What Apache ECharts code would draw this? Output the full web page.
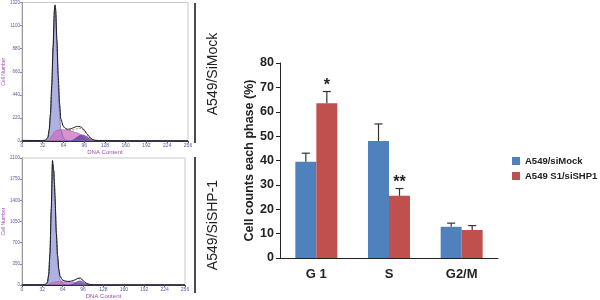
<!DOCTYPE html>
<html>
<head>
<meta charset="utf-8">
<script src="https://cdn.jsdelivr.net/npm/echarts@6/dist/echarts.min.js"></script>
<style>
  html, body { margin: 0; padding: 0; background: #fff; }
  #chart { width: 600px; height: 300px; }
</style>
</head>
<body>
<div id="chart"></div>
<script>
// histogram channels (DNA content)
var channels = [0, 16, 32, 36, 40, 42, 44, 46, 48, 50, 51, 52, 54, 56, 58, 60, 64, 68, 72, 76, 80, 84, 88, 92, 96, 100, 104, 108, 112, 116, 120, 128, 136, 160, 192, 224, 256];

// A549/SiMock histogram
var mockG1 = [0, 0, 0, 0, 20, 90, 220, 480, 820, 1180, 1280, 1210, 880, 520, 260, 110, 30, 6, 0, 0, 0, 0, 0, 0, 0, 0, 0, 0, 0, 0, 0, 0, 0, 0, 0, 0, 0];
var mockS = [0, 0, 0, 0, 0, 15, 30, 50, 70, 85, 90, 95, 100, 105, 107, 108, 108, 105, 100, 95, 88, 80, 70, 55, 40, 22, 8, 0, 0, 0, 0, 0, 0, 0, 0, 0, 0];
var mockG2 = [0, 0, 0, 0, 0, 0, 0, 0, 0, 0, 0, 0, 0, 0, 0, 0, 0, 0, 0, 0, 12, 30, 48, 58, 55, 42, 25, 12, 4, 0, 0, 0, 0, 0, 0, 0, 0];
var mockData = [6, 5, 4, 8, 35, 110, 260, 540, 900, 1250, 1295, 1250, 960, 620, 360, 210, 140, 115, 112, 118, 128, 138, 140, 130, 105, 70, 40, 18, 8, 5, 4, 3, 3, 2, 2, 2, 2];
var mockFit = [0, 0, 0, 2, 25, 100, 250, 520, 880, 1230, 1300, 1260, 940, 600, 350, 200, 135, 112, 105, 105, 108, 115, 122, 118, 98, 68, 36, 14, 4, 1, 0, 0, 0, 0, 0, 0, 0];

// A549/SiSHP-1 histogram
var shpG1 = [0, 0, 0, 0, 30, 150, 500, 1200, 2000, 1850, 1650, 1400, 820, 430, 200, 90, 25, 5, 0, 0, 0, 0, 0, 0, 0, 0, 0, 0, 0, 0, 0, 0, 0, 0, 0, 0, 0];
var shpS = [0, 0, 0, 0, 0, 10, 20, 30, 40, 45, 48, 50, 52, 55, 55, 55, 55, 52, 50, 48, 45, 40, 32, 22, 12, 4, 0, 0, 0, 0, 0, 0, 0, 0, 0, 0, 0];
var shpG2 = [0, 0, 0, 0, 0, 0, 0, 0, 0, 0, 0, 0, 0, 0, 0, 0, 0, 0, 0, 0, 12, 35, 60, 68, 45, 22, 8, 2, 0, 0, 0, 0, 0, 0, 0, 0, 0];
var shpData = [5, 4, 4, 10, 40, 170, 520, 1250, 2060, 1900, 1700, 1450, 870, 490, 260, 140, 80, 65, 60, 62, 72, 90, 112, 115, 75, 38, 16, 7, 4, 3, 3, 2, 2, 2, 2, 2, 2];
var shpFit = [0, 0, 0, 3, 35, 165, 515, 1230, 2040, 1890, 1700, 1460, 880, 490, 260, 150, 82, 62, 58, 58, 66, 84, 102, 105, 70, 36, 14, 4, 1, 0, 0, 0, 0, 0, 0, 0, 0];

// bar chart
var phases = ['G 1', 'S', 'G2/M'];
var mockPct = [39.5, 48, 12.8];
var mockErr = [3.5, 7, 1.5];
var shpPct = [63.5, 25.5, 11.5];
var shpErr = [4.8, 3, 1.8];
var shpSig = ['*', '**', ''];
var groupNames = ['A549/siMock', 'A549 S1/siSHP1'];

var FONT = 'Liberation Sans, Arial, sans-serif';
var barW = 21;

function pairs(vals) {
    return channels.map(function (c, i) { return [c, vals[i]]; });
}

function histX(idx) {
    return {
        gridIndex: idx, type: 'value', min: 0, max: 256, interval: 32,
        name: 'DNA Content', nameLocation: 'middle', nameGap: 8,
        nameTextStyle: { fontSize: 6, color: '#a04fb0', fontFamily: FONT },
        axisLine: { lineStyle: { color: '#222', width: 1 } },
        axisTick: { length: 2, lineStyle: { color: '#555' } },
        axisLabel: { fontSize: 5, color: '#5a5aa0', margin: 2, fontFamily: FONT },
        splitLine: { show: false }
    };
}
function histY(idx, max, step) {
    return {
        gridIndex: idx, type: 'value', min: 0, max: max, interval: step,
        name: 'Cell Number', nameLocation: 'middle', nameGap: 10,
        nameTextStyle: { fontSize: 5, color: '#a04fb0', fontFamily: FONT },
        axisLine: { show: true, lineStyle: { color: '#888', width: 0.8 } },
        axisTick: { length: 2, lineStyle: { color: '#888' } },
        axisLabel: { fontSize: 4.5, color: '#5a5aa0', margin: 2, fontFamily: FONT, formatter: function (v) { return String(v); } },
        splitLine: { show: false }
    };
}
function histSeries(idx, g1, s, g2, fit, dat) {
    var base = { type: 'line', xAxisIndex: idx, yAxisIndex: idx, symbol: 'none', smooth: 0.25, smoothMonotone: 'x', silent: true };
    return [
        Object.assign({}, base, { data: pairs(g1), lineStyle: { color: '#6d72b8', width: 0.8 }, areaStyle: { color: '#a6a8dd', opacity: 0.9 } }),
        Object.assign({}, base, { data: pairs(s), lineStyle: { color: '#b05aa8', width: 0.6 }, areaStyle: { color: '#cc6fbf', opacity: 0.75 } }),
        Object.assign({}, base, { data: pairs(g2), lineStyle: { color: '#4a3290', width: 0.6 }, areaStyle: { color: '#5b3f9e', opacity: 0.75 } }),
        Object.assign({}, base, { data: pairs(fit), lineStyle: { color: '#666', width: 0.8, type: [2, 1.5] } }),
        Object.assign({}, base, { data: pairs(dat), lineStyle: { color: '#111', width: 0.9 } })
    ];
}

function errorItem(vals, errs, sig, side) {
    return function (params, api) {
        var i = params.dataIndex;
        var x = api.coord([i, 0])[0] + side * barW / 2;
        var yTop = api.coord([i, vals[i]])[1];
        var yErr = api.coord([i, vals[i] + errs[i]])[1];
        var st = { stroke: '#333', lineWidth: 1.2 };
        var kids = [
            { type: 'line', shape: { x1: x, y1: yTop, x2: x, y2: yErr }, style: st },
            { type: 'line', shape: { x1: x - 4, y1: yErr, x2: x + 4, y2: yErr }, style: st }
        ];
        if (sig && sig[i]) {
            kids.push({ type: 'text', style: { text: sig[i], x: x, y: yErr + 2, align: 'center', verticalAlign: 'bottom', fontSize: 16, fontWeight: 'bold', fill: '#222', fontFamily: FONT } });
        }
        return { type: 'group', children: kids };
    };
}

var chart = echarts.init(document.getElementById('chart'));
var option = {
    animation: false,
    backgroundColor: '#fff',
    textStyle: { fontFamily: FONT },
    grid: [
        { left: 17, top: 2, width: 171, height: 139, show: true, borderColor: '#c8c8c8', borderWidth: 1, containLabel: false },
        { left: 17, top: 158, width: 168, height: 128, show: true, borderColor: '#c8c8c8', borderWidth: 1, containLabel: false },
        { left: 280, top: 63, width: 218, height: 195, containLabel: false }
    ],
    xAxis: [
        histX(0),
        histX(1),
        {
            gridIndex: 2, type: 'category', data: phases,
            axisLine: { lineStyle: { color: '#222', width: 1 } },
            axisTick: { length: 4, lineStyle: { color: '#222' } },
            axisLabel: { fontSize: 13, fontWeight: 'bold', color: '#222', margin: 10, fontFamily: FONT }
        }
    ],
    yAxis: [
        histY(0, 1320, 220),
        histY(1, 2100, 350),
        {
            gridIndex: 2, type: 'value', min: 0, max: 80, interval: 10,
            name: 'Cell counts each phase (%)', nameLocation: 'middle', nameGap: 24, nameMoveOverlap: false,
            nameTextStyle: { fontSize: 12.5, fontWeight: 'bold', color: '#222', fontFamily: FONT },
            axisLine: { show: true, lineStyle: { color: '#222', width: 1 } },
            axisTick: { show: true, length: 4, lineStyle: { color: '#222' } },
            axisLabel: { fontSize: 12.5, fontWeight: 'bold', color: '#222', margin: 6, fontFamily: FONT },
            splitLine: { show: false }
        }
    ],
    legend: {
        data: groupNames, orient: 'vertical', left: 507, top: 151,
        icon: 'rect', itemWidth: 8, itemHeight: 8, itemGap: 5,
        textStyle: { fontSize: 9.5, fontWeight: 'bold', color: '#222', fontFamily: FONT, overflow: 'none' }
    },
    graphic: [
        { type: 'line', shape: { x1: 195, y1: 3, x2: 195, y2: 143 }, style: { stroke: '#111', lineWidth: 1.5 } },
        { type: 'line', shape: { x1: 195, y1: 157, x2: 195, y2: 293 }, style: { stroke: '#111', lineWidth: 1.5 } },
        { type: 'text', x: 213, y: 74, rotation: Math.PI / 2, style: { text: 'A549/SiMock', align: 'center', verticalAlign: 'middle', fontSize: 14, fill: '#222', fontFamily: FONT } },
        { type: 'text', x: 213, y: 225, rotation: Math.PI / 2, style: { text: 'A549/SiSHP-1', align: 'center', verticalAlign: 'middle', fontSize: 14, fill: '#222', fontFamily: FONT } }
    ],
    series: histSeries(0, mockG1, mockS, mockG2, mockFit, mockData)
        .concat(histSeries(1, shpG1, shpS, shpG2, shpFit, shpData))
        .concat([
            { name: groupNames[0], type: 'bar', xAxisIndex: 2, yAxisIndex: 2, data: mockPct, barWidth: barW, barGap: '0%', itemStyle: { color: '#4f81bd' } },
            { name: groupNames[1], type: 'bar', xAxisIndex: 2, yAxisIndex: 2, data: shpPct, barWidth: barW, barGap: '0%', itemStyle: { color: '#c0504d' } },
            { type: 'custom', xAxisIndex: 2, yAxisIndex: 2, data: mockPct, renderItem: errorItem(mockPct, mockErr, null, -1), z: 5 },
            { type: 'custom', xAxisIndex: 2, yAxisIndex: 2, data: shpPct, renderItem: errorItem(shpPct, shpErr, shpSig, 1), z: 5 }
        ])
};
chart.setOption(option);
</script>
</body>
</html>
